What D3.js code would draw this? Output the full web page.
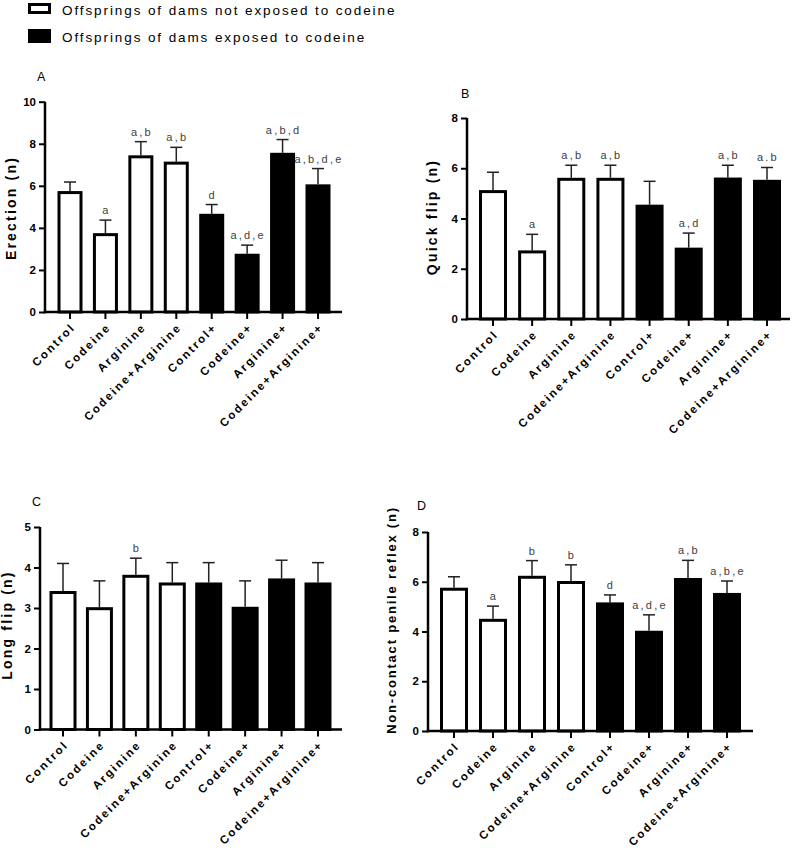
<!DOCTYPE html>
<html>
<head>
<meta charset="utf-8">
<script src="https://cdn.jsdelivr.net/npm/d3@7"></script>
<style>
  body { margin: 0; background: #fff; }
  svg { display: block; font-family: "Liberation Sans", Arial, sans-serif; }
</style>
</head>
<body>
<svg id="chart" width="794" height="848"></svg>
<script>
// ---------- data ----------
const categories = ["Control", "Codeine", "Arginine", "Codeine+Arginine",
                    "Control+", "Codeine+", "Arginine+", "Codeine+Arginine+"];
const exposed = [false, false, false, false, true, true, true, true];
const legendLabels = ["Offsprings of dams not exposed to codeine",
                      "Offsprings of dams exposed to codeine"];

const erectionMean = [5.75, 3.75, 7.45, 7.15, 4.67, 2.77, 7.57, 6.07];
const erectionErr  = [6.18, 4.37, 8.10, 7.83, 5.11, 3.18, 8.20, 6.82];
const erectionSig  = ["", "a", "a,b", "a,b", "d", "a,d,e", "a,b,d", "a,b,d,e"];

const quickMean = [5.13, 2.73, 5.62, 5.62, 4.55, 2.84, 5.63, 5.54];
const quickErr  = [5.84, 3.37, 6.12, 6.12, 5.48, 3.42, 6.12, 6.03];
const quickSig  = ["", "a", "a,b", "a,b", "", "a,d", "a,b", "a.b"];

const longMean = [3.42, 3.02, 3.82, 3.63, 3.63, 3.03, 3.73, 3.63];
const longErr  = [4.10, 3.67, 4.23, 4.12, 4.12, 3.67, 4.18, 4.12];
const longSig  = ["", "", "b", "", "", "", "", ""];

const ncMean = [5.76, 4.51, 6.24, 6.03, 5.17, 4.03, 6.15, 5.55];
const ncErr  = [6.20, 5.02, 6.85, 6.68, 5.47, 4.67, 6.86, 6.03];
const ncSig  = ["", "a", "b", "b", "d", "a,d,e", "a,b", "a,b,e"];

const ticksA = [0, 2, 4, 6, 8, 10];
const ticksB = [0, 2, 4, 6, 8];
const ticksC = [0, 1, 2, 3, 4, 5];
const ticksD = [0, 2, 4, 6, 8];

// ---------- drawing ----------
const svg = d3.select("#chart");

function drawPanel(p) {
  const g = svg.append("g");
  const y = d3.scaleLinear().domain([0, p.max]).range([p.y0, p.yTop]);
  const step = (p.cLast - p.cFirst) / (categories.length - 1);
  const x = d3.scaleBand().domain(categories)
    .range([p.cFirst - step / 2, p.cLast + step / 2]).padding(0);
  const cx = d => x(d) + x.bandwidth() / 2;
  const sw = 3;

  const rows = categories.map((c, i) => ({c, m: p.mean[i], e: p.err[i], s: p.sig[i], exp: exposed[i]}));

  // error bars
  const eb = g.selectAll(".eb").data(rows).enter().append("g");
  eb.append("line")
    .attr("x1", d => cx(d.c)).attr("x2", d => cx(d.c))
    .attr("y1", d => y(d.m)).attr("y2", d => y(d.e))
    .attr("stroke", "#222").attr("stroke-width", 1.5);
  eb.append("line")
    .attr("x1", d => cx(d.c) - 6).attr("x2", d => cx(d.c) + 6)
    .attr("y1", d => y(d.e)).attr("y2", d => y(d.e))
    .attr("stroke", "#222").attr("stroke-width", 1.5);

  // bars
  g.selectAll(".bar").data(rows).enter().append("rect")
    .attr("x", d => cx(d.c) - p.bw / 2 + sw / 2)
    .attr("width", p.bw - sw)
    .attr("y", d => y(d.m) + sw / 2)
    .attr("height", d => y(0) - y(d.m) - sw / 2)
    .attr("fill", d => d.exp ? "#000" : "#fff")
    .attr("stroke", "#000").attr("stroke-width", sw);

  // significance labels
  g.selectAll(".sig").data(rows).enter().append("text")
    .attr("x", d => cx(d.c) + 1)
    .attr("y", d => y(d.e) - 6)
    .attr("text-anchor", "middle")
    .attr("font-size", 11).attr("fill", "#404040")
    .attr("letter-spacing", 2.2)
    .text(d => d.s);

  // y axis
  const ya = g.append("g").attr("transform", `translate(${p.ax},0)`)
    .call(d3.axisLeft(y).tickValues(p.ticks).tickSize(6).tickPadding(3).tickFormat(d3.format("d")));
  ya.select(".domain").attr("stroke-width", 2.5).attr("d", `M0,${p.y0 + 1.25}V${p.yTop}`).attr("stroke", "#000");
  ya.selectAll(".tick line").attr("stroke-width", 2).attr("stroke", "#000");
  ya.selectAll(".tick text").attr("font-size", 11.5).attr("font-weight", "bold")
    .attr("fill", "#000").attr("font-family", "Liberation Sans, Arial, sans-serif");

  // x axis
  const xa = g.append("g").attr("transform", `translate(0,${p.y0})`);
  xa.append("line").attr("x1", p.ax - 1.25).attr("x2", p.axEnd).attr("y1", 0).attr("y2", 0)
    .attr("stroke", "#000").attr("stroke-width", 2.5);
  xa.selectAll(".xt").data(categories).enter().append("line")
    .attr("x1", d => cx(d)).attr("x2", d => cx(d)).attr("y1", 0).attr("y2", 7)
    .attr("stroke", "#000").attr("stroke-width", 2);
  xa.selectAll(".xl").data(categories).enter().append("text")
    .attr("transform", d => `translate(${cx(d) + 6},${16}) rotate(-45)`)
    .attr("text-anchor", "end")
    .attr("font-size", 11.5).attr("font-weight", "bold").attr("letter-spacing", 2.1)
    .text(d => d);

  // y title
  svg.append("text")
    .attr("transform", `translate(${p.titleX},${p.titleY}) rotate(-90)`)
    .attr("text-anchor", "middle")
    .attr("font-size", p.titleSize || 14).attr("font-weight", "bold").attr("letter-spacing", p.titleSpacing || 2.2)
    .text(p.title);

  // panel letter
  svg.append("text").attr("x", p.letterX).attr("y", p.letterY)
    .attr("font-size", 12.5).text(p.letter);
}

drawPanel({mean: erectionMean, err: erectionErr, sig: erectionSig, ticks: ticksA, max: 10,
  y0: 312, yTop: 101.7, ax: 45, axEnd: 342, cFirst: 70, cLast: 318, bw: 25,
  title: "Erection (n)", titleX: 16, titleY: 208, letter: "A", letterX: 37, letterY: 81});

drawPanel({mean: quickMean, err: quickErr, sig: quickSig, ticks: ticksB, max: 8,
  y0: 319, yTop: 118, ax: 467, axEnd: 790, cFirst: 493, cLast: 767, bw: 28,
  title: "Quick flip (n)", titleX: 437, titleY: 217, letter: "B", letterX: 461, letterY: 98});

drawPanel({mean: longMean, err: longErr, sig: longSig, ticks: ticksC, max: 5,
  y0: 729.5, yTop: 527, ax: 40, axEnd: 342, cFirst: 63, cLast: 318, bw: 27,
  title: "Long flip (n)", titleX: 12, titleY: 625, letter: "C", letterX: 32, letterY: 506});

drawPanel({mean: ncMean, err: ncErr, sig: ncSig, ticks: ticksD, max: 8,
  y0: 731, yTop: 532, ax: 428, axEnd: 753, cFirst: 454, cLast: 727, bw: 28,
  title: "Non-contact penile reflex (n)", titleX: 396, titleY: 620, titleSize: 13, titleSpacing: 1.8,
  letter: "D", letterX: 417, letterY: 510});

// legend
const leg = svg.append("g");
leg.append("rect").attr("x", 29.5).attr("y", 4.5).attr("width", 20).attr("height", 8)
  .attr("fill", "#fff").attr("stroke", "#000").attr("stroke-width", 3);
leg.append("rect").attr("x", 28).attr("y", 29).attr("width", 23).attr("height", 14).attr("fill", "#000");
leg.selectAll(".lt").data(legendLabels).enter().append("text")
  .attr("x", 62).attr("y", (d, i) => i === 0 ? 15 : 42)
  .attr("font-size", 13.5).attr("letter-spacing", 1.9)
  .text(d => d);
</script>
</body>
</html>
